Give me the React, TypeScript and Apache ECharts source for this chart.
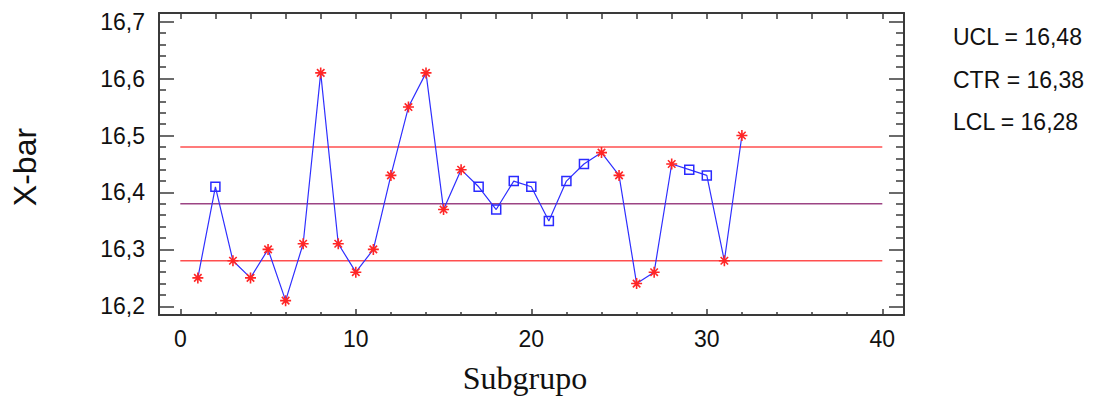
import React, { useEffect, useRef } from "react";
import * as echarts from "echarts";

// Subgroup means for the X-bar control chart
const subgroups = [1, 2, 3, 4, 5, 6, 7, 8, 9, 10, 11, 12, 13, 14, 15, 16, 17, 18, 19, 20, 21, 22, 23, 24, 25, 26, 27, 28, 29, 30, 31, 32];
const xbar = [
  16.25, 16.41, 16.28, 16.25, 16.3, 16.21, 16.31, 16.61, 16.31, 16.26, 16.3, 16.43, 16.55, 16.61, 16.37, 16.44,
  16.41, 16.37, 16.42, 16.41, 16.35, 16.42, 16.45, 16.47, 16.43, 16.24, 16.26, 16.45, 16.44, 16.43, 16.28, 16.5,
];
// 1 = point flagged by a run rule (asterisk), 0 = ordinary point (square)
const flagged = [1, 0, 1, 1, 1, 1, 1, 1, 1, 1, 1, 1, 1, 1, 1, 1, 0, 0, 0, 0, 0, 0, 0, 1, 1, 1, 1, 1, 0, 0, 1, 1];

// Control limits
const ucl = 16.48;
const ctr = 16.38;
const lcl = 16.28;
const limitSpan = [0, 40];

// Tick positions
const xMajorTicks = [0, 10, 20, 30, 40];
const xMinorTicks = [2, 4, 6, 8, 12, 14, 16, 18, 22, 24, 26, 28, 32, 34, 36, 38];
const xTopTicks = [0, 2, 4, 6, 8, 10, 12, 14, 16, 18, 20, 22, 24, 26, 28, 30, 32, 34, 36, 38, 40];
const yMajorTicks = [16.2, 16.3, 16.4, 16.5, 16.6, 16.7];
const yMinorTicks = [
  16.22, 16.24, 16.26, 16.28, 16.32, 16.34, 16.36, 16.38, 16.42, 16.44, 16.46, 16.48,
  16.52, 16.54, 16.56, 16.58, 16.62, 16.64, 16.66, 16.68,
];

const X_MIN = -1.214;
const X_MAX = 41.236;
const Y_MIN = 16.1848;
const Y_MAX = 16.7152;

const SANS = "'Liberation Sans', Arial, Helvetica, sans-serif";
const SERIF = "'Liberation Serif', 'Times New Roman', serif";
const AXIS_COLOR = "#3a3a3a";

const STAR = "path://M0,5L10,5M5,0L5,10M1.6,1.6L8.4,8.4M8.4,1.6L1.6,8.4";

const fmt = (v: number, d: number) => v.toFixed(d).replace(".", ",");

function xAxisDef(position: "top" | "bottom", ticks: number[], len: number, showLine: boolean, labels: boolean) {
  return {
    type: "value",
    position,
    min: X_MIN,
    max: X_MAX,
    splitLine: { show: false },
    axisLine: { show: showLine, onZero: false, lineStyle: { color: AXIS_COLOR, width: 2 } },
    axisTick: {
      show: true,
      inside: true,
      length: len,
      customValues: ticks,
      lineStyle: { color: AXIS_COLOR, width: 1.5 },
    },
    axisLabel: labels
      ? {
          show: true,
          customValues: ticks,
          margin: 12,
          fontSize: 23,
          fontFamily: SANS,
          color: "#111",
          formatter: (v: number) => String(Math.round(v)),
        }
      : { show: false },
  };
}

function yAxisDef(position: "left" | "right", ticks: number[], len: number, showLine: boolean, labels: boolean) {
  return {
    type: "value",
    position,
    min: Y_MIN,
    max: Y_MAX,
    splitLine: { show: false },
    axisLine: { show: showLine, onZero: false, lineStyle: { color: AXIS_COLOR, width: 2 } },
    axisTick: {
      show: true,
      inside: true,
      length: len,
      customValues: ticks,
      lineStyle: { color: AXIS_COLOR, width: 1.5 },
    },
    axisLabel: labels
      ? {
          show: true,
          customValues: ticks,
          margin: 14,
          fontSize: 23,
          fontFamily: SANS,
          color: "#111",
          formatter: (v: number) => fmt(v, 1),
        }
      : { show: false },
  };
}

export default function App() {
  const ref = useRef<HTMLDivElement>(null);

  useEffect(() => {
    if (!ref.current) return;
    const chart = echarts.init(ref.current, undefined, { renderer: "svg" });

    const limitLine = (value: number, color: string) => ({
      type: "line",
      data: limitSpan.map((x) => [x, value]),
      symbol: "none",
      silent: true,
      lineStyle: { color, width: 1.5 },
      z: 2,
    });

    const points = xbar.map((v, i) =>
      flagged[i]
        ? {
            value: [subgroups[i], v],
            symbol: STAR,
            symbolSize: 11,
            itemStyle: { color: "rgba(0,0,0,0)", borderColor: "#ff2626", borderWidth: 1.6 },
          }
        : {
            value: [subgroups[i], v],
            symbol: "rect",
            symbolSize: 9,
            itemStyle: { color: "rgba(0,0,0,0)", borderColor: "#2b2bff", borderWidth: 1.5 },
          }
    );

    chart.setOption({
      animation: false,
      backgroundColor: "#ffffff",
      grid: { left: 159, top: 13, width: 745, height: 302, containLabel: false },
      xAxis: [
        xAxisDef("bottom", xMajorTicks, 6, true, true),
        xAxisDef("bottom", xMinorTicks, 3, false, false),
        xAxisDef("top", xTopTicks, 6, true, false),
      ],
      yAxis: [
        yAxisDef("left", yMajorTicks, 15, true, true),
        yAxisDef("left", yMinorTicks, 7, false, false),
        yAxisDef("right", yMajorTicks, 15, true, false),
        yAxisDef("right", yMinorTicks, 8, false, false),
      ],
      series: [
        limitLine(ucl, "#ff4f4f"),
        limitLine(ctr, "#9c4484"),
        limitLine(lcl, "#ff4f4f"),
        {
          type: "line",
          data: points,
          lineStyle: { color: "#2f2fff", width: 1.2 },
          showAllSymbol: true,
          z: 3,
        },
      ],
      graphic: [
        {
          type: "text",
          x: 25,
          y: 167,
          rotation: Math.PI / 2,
          style: {
            text: "X-bar",
            font: `32px ${SANS}`,
            fill: "#111",
            align: "center",
            verticalAlign: "middle",
          },
        },
        {
          type: "text",
          x: 525,
          y: 378,
          style: {
            text: "Subgrupo",
            font: `32px ${SERIF}`,
            fill: "#111",
            align: "center",
            verticalAlign: "middle",
          },
        },
        {
          type: "text",
          x: 953,
          y: 37,
          style: { text: `UCL = ${fmt(ucl, 2)}`, font: `23px ${SANS}`, fill: "#111", verticalAlign: "middle" },
        },
        {
          type: "text",
          x: 953,
          y: 80,
          style: { text: `CTR = ${fmt(ctr, 2)}`, font: `23px ${SANS}`, fill: "#111", verticalAlign: "middle" },
        },
        {
          type: "text",
          x: 953,
          y: 122,
          style: { text: `LCL = ${fmt(lcl, 2)}`, font: `23px ${SANS}`, fill: "#111", verticalAlign: "middle" },
        },
      ],
    });

    return () => chart.dispose();
  }, []);

  return <div ref={ref} style={{ position: "fixed", left: 0, top: 0, width: 1095, height: 397 }} />;
}
